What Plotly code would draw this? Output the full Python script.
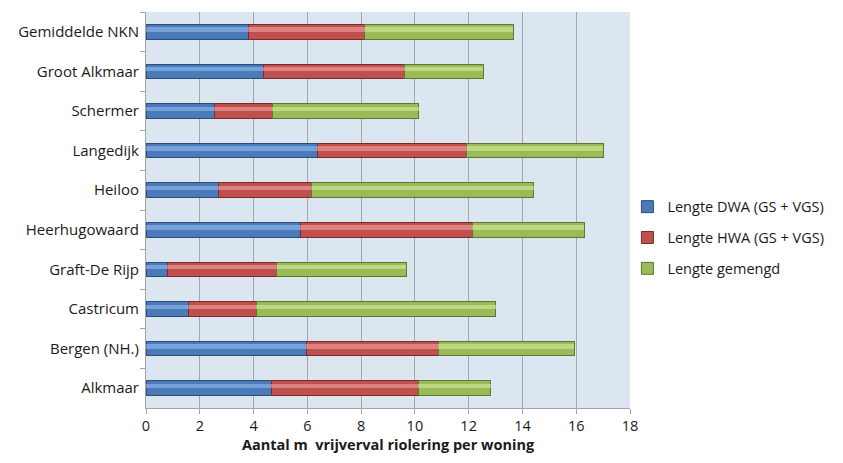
import plotly.graph_objects as go

# Municipalities, listed from top to bottom as shown on the axis
gemeenten = ["Gemiddelde NKN", "Groot Alkmaar", "Schermer", "Langedijk", "Heiloo",
             "Heerhugowaard", "Graft-De Rijp", "Castricum", "Bergen (NH.)", "Alkmaar"]

# Length of gravity sewer per dwelling (m), per sewer type
lengte_dwa = [3.80, 4.36, 2.56, 6.36, 2.71, 5.73, 0.79, 1.59, 5.96, 4.65]
lengte_hwa = [4.33, 5.26, 2.13, 5.56, 3.45, 6.40, 4.08, 2.51, 4.90, 5.48]
lengte_gemengd = [5.52, 2.92, 5.46, 5.08, 8.26, 4.16, 4.81, 8.91, 5.07, 2.69]

series_names = ["Lengte DWA (GS + VGS)", "Lengte HWA (GS + VGS)", "Lengte gemengd"]
series_values = [lengte_dwa, lengte_hwa, lengte_gemengd]
base_colors = ["#4a7ab8", "#c0504d", "#9bbb59"]
edge_colors = ["#2c4d75", "#772c2a", "#5f7530"]
shine_colors = ["#93bdf0", "#f0a3a0", "#d2ec9c"]

x_ticks = list(range(0, 19, 2))

FONT = "'Open Sans', sans-serif"

fig = go.Figure()

for name, vals, col, edge in zip(series_names, series_values, base_colors, edge_colors):
    fig.add_trace(go.Bar(
        y=gemeenten, x=vals, name=name, orientation="h",
        width=0.37,
        marker=dict(color=col, line=dict(color=edge, width=1)),
        legendgroup=name,
    ))

# Lighter inner band on each segment for a bevelled look
for name, vals, shine in zip(series_names, series_values, shine_colors):
    fig.add_trace(go.Bar(
        y=gemeenten, x=vals, orientation="h",
        width=0.11, offset=-0.11,
        marker=dict(color=shine, opacity=0.6, line=dict(width=0)),
        showlegend=False, hoverinfo="skip",
        yaxis="y2",
    ))

fig.update_layout(
    width=843, height=463,
    barmode="stack",
    paper_bgcolor="white",
    plot_bgcolor="#dce6f1",
    margin=dict(l=146, r=213, t=12, b=55),
    font=dict(family=FONT, size=15, color="#1a1a1a"),
    xaxis=dict(
        range=[0, 18], tickvals=x_ticks, ticktext=[str(v) for v in x_ticks],
        showgrid=True, gridcolor="#a6a6a6", gridwidth=1,
        showline=True, linecolor="#a6a6a6",
        ticks="outside", ticklen=5, tickcolor="#a6a6a6",
        tickfont=dict(size=14.5),
        zeroline=False,
        title=dict(text="<b>Aantal m  vrijverval riolering per woning</b>",
                   font=dict(size=14.5, family=FONT), standoff=5),
        fixedrange=True,
    ),
    yaxis=dict(
        categoryorder="array", categoryarray=gemeenten, autorange="reversed",
        showline=True, linecolor="#a6a6a6",
        ticks="outside", ticklen=5, tickcolor="#a6a6a6", tickson="boundaries",
        ticklabelstandoff=3,
        tickfont=dict(size=15),
        showgrid=False,
    ),
    yaxis2=dict(
        overlaying="y", categoryorder="array", categoryarray=gemeenten,
        autorange="reversed", showticklabels=False, showgrid=False,
        showline=False, ticks="",
    ),
    legend=dict(
        x=1.412, xanchor="right", y=0.43, yanchor="middle",
        traceorder="grouped", tracegroupgap=9,
        font=dict(size=14.5, family=FONT),
        itemwidth=30,
        bgcolor="rgba(0,0,0,0)",
    ),
    showlegend=True,
)

fig.write_html("out.html")
